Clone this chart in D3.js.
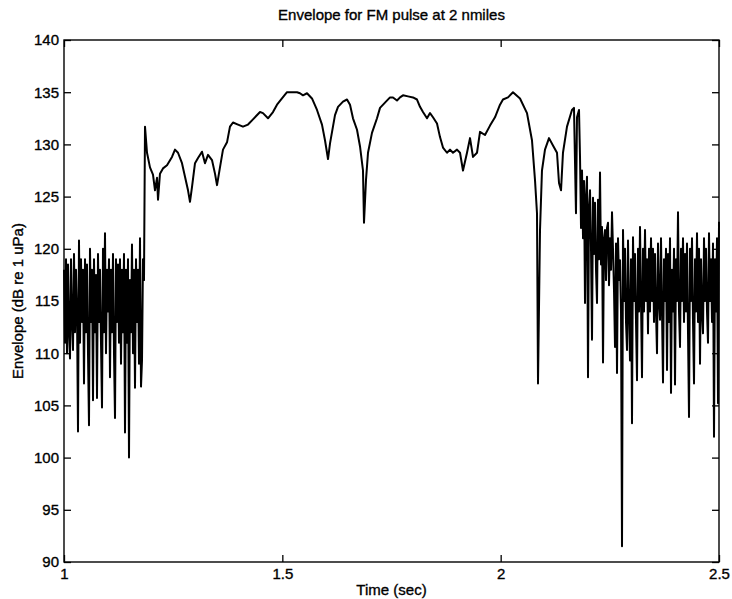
<!DOCTYPE html>
<meta charset="utf-8" />
<style>
  body { margin: 0; background: #fff; }
  text { font-family: 'Liberation Sans', Arial, sans-serif; fill: #000; stroke: #000; stroke-width: 0.35px; }
  .axis path, .axis line { stroke: #000; stroke-width: 1.3px; }
  .axis text { font-size: 15px; }
  .line { fill: none; stroke: #000; stroke-width: 2px; stroke-linejoin: round; }
</style>
<svg width="732" height="599"></svg>
<script src="https://d3js.org/d3.v7.min.js"></script>
<script>
  // left noise (before the pulse arrives), one sample every noiseStep seconds
  var noiseStep = 0.00229;
  var leftStart = 1.0;
  var leftNoise = [
    118, 111, 119, 110, 118.5, 112, 109.5, 119, 113, 110.3,
    119.5, 112, 118, 114, 102.5, 120.8, 111, 119, 113, 118,
    107.1, 119, 112, 118.5, 110, 103.1, 120, 113, 118, 105.5,
    119, 112, 117.5, 105.7, 119.5, 113, 118, 111, 104.8, 120,
    112, 121.5, 110, 118, 114, 119, 107.7, 118, 112, 119.5,
    110, 103.8, 119, 113, 118.5, 111, 119, 109, 118, 112,
    119.5, 102.4, 118, 111, 119, 100, 117, 112, 120.4, 110,
    118, 106.7, 119, 113, 118, 109, 121, 106.8, 109.3, 119,
    117
  ];

  // the pulse itself
  var pulseTime = [
    1.1855, 1.1901, 1.1969, 1.2038, 1.2084, 1.2130, 1.2153, 1.2198, 1.2267, 1.2359,
    1.2473, 1.2542, 1.2611, 1.2702, 1.2771, 1.2840, 1.2885, 1.2931, 1.3000, 1.3069,
    1.3160, 1.3229, 1.3298, 1.3389, 1.3458, 1.3504, 1.3572, 1.3641, 1.3733, 1.3801,
    1.3870, 1.3985, 1.4099, 1.4214, 1.4328, 1.4489, 1.4557, 1.4672, 1.4786, 1.4878,
    1.4992, 1.5107, 1.5221, 1.5336, 1.5404, 1.5473, 1.5565, 1.5679, 1.5794, 1.5908,
    1.5977, 1.6046, 1.6092, 1.6206, 1.6275, 1.6389, 1.6481, 1.6550, 1.6618, 1.6710,
    1.6779, 1.6847, 1.6870, 1.6916, 1.6962, 1.7053, 1.7168, 1.7237, 1.7351, 1.7466,
    1.7534, 1.7626, 1.7695, 1.7763, 1.7878, 1.7992, 1.8084, 1.8153, 1.8221, 1.8313,
    1.8382, 1.8450, 1.8542, 1.8611, 1.8679, 1.8771, 1.8840, 1.8908, 1.9000, 1.9069,
    1.9137, 1.9229, 1.9298, 1.9366, 1.9458, 1.9527, 1.9641, 1.9756, 1.9870, 1.9985,
    2.0053, 2.0168, 2.0282, 2.0443, 2.0603, 2.0717, 2.0786, 2.0832, 2.0855, 2.0901,
    2.0946, 2.1015, 2.1107, 2.1198, 2.1290, 2.1336, 2.1382, 2.1427, 2.1519, 2.1633,
    2.1679, 2.1725, 2.1748, 2.1794
  ];
  var pulseDb = [
    131.7, 129.2, 127.8, 127.1, 125.6, 126.8, 124.7, 127.2, 127.7, 128.0,
    128.8, 129.5, 129.2, 128.2, 126.9, 125.6, 124.5, 125.9, 128.2, 128.7,
    129.3, 128.2, 129.0, 128.5, 127.2, 126.1, 127.8, 129.5, 130.2, 131.7,
    132.1, 131.9, 131.7, 131.9, 132.4, 133.1, 133.0, 132.5, 133.1, 133.8,
    134.4, 135.0, 135.0, 135.0, 134.9, 134.7, 134.9, 134.4, 133.3, 131.9,
    130.4, 128.6, 130.1, 132.8, 133.6, 134.1, 134.3, 133.8, 132.5, 131.4,
    129.8, 127.5, 122.5, 126.6, 129.2, 131.1, 132.5, 133.5, 134.0, 134.5,
    134.5, 134.2, 134.5, 134.7, 134.6, 134.5, 134.3, 133.6, 133.1, 132.5,
    133.0, 132.6, 132.0, 130.7, 129.7, 129.2, 129.5, 129.2, 129.5, 129.2,
    127.5, 129.2, 130.6, 128.8, 129.2, 131.2, 130.9, 131.8, 132.6, 133.8,
    134.3, 134.5, 135.0, 134.4, 133.0, 130.4, 126.6, 123.4, 107.1, 121.8,
    127.5, 129.5, 130.6, 129.9, 129.2, 126.3, 125.6, 129.2, 131.7, 133.3,
    133.5, 123.4, 132.6, 133.3
  ];

  // right noise (after the pulse), same sample step
  var rightStart = 2.1817;
  var rightNoise = [
    128.8, 122, 127.5, 121, 126.5, 114.8, 125, 126.9, 107.7, 124,
    125.6, 120, 111.3, 124.9, 119.5, 124.4, 118, 114.8, 124.7, 119,
    127.3, 118.5, 122.1, 109.1, 121, 121.8, 117, 122, 122.5, 116.5,
    121, 118, 123.5, 119.9, 116, 110.6, 120.5, 108.1, 121, 117,
    118.9, 114, 91.5, 121.8, 115, 120, 113, 110.3, 120.8, 114,
    109.3, 119, 103.3, 121.1, 115, 119.5, 113, 107.4, 120, 114,
    122.1, 115, 107.7, 120, 114, 121.8, 115, 119, 111.9, 120,
    114, 121, 115, 120, 113, 119.5, 114, 110, 120.5, 115,
    113.2, 121, 114, 107.2, 119, 115, 120, 108.4, 119.5, 113,
    121, 106.2, 118, 114, 120, 107, 119, 115, 123.5, 114,
    110.6, 120, 115, 121, 113, 119.5, 114, 120.5, 112, 103.9,
    120, 115, 121, 113, 107.1, 119, 114, 121.5, 113, 120,
    109, 119, 114, 111.9, 121, 115, 120, 114, 111, 121.5,
    115, 119, 113, 120.5, 102, 119, 114, 121, 105.2, 122.6
  ];

  var xTicks = [1, 1.5, 2, 2.5];
  var yTicks = [90, 95, 100, 105, 110, 115, 120, 125, 130, 135, 140];

  var series = [];
  leftNoise.forEach(function (v, i) {
    series.push({ t: leftStart + i * noiseStep, v: v });
  });
  pulseTime.forEach(function (t, i) {
    series.push({ t: t, v: pulseDb[i] });
  });
  rightNoise.forEach(function (v, i) {
    series.push({ t: rightStart + i * noiseStep, v: v });
  });

  var svg = d3.select('svg'),
    margin = { top: 40, right: 13, bottom: 37, left: 64 },
    width = svg.attr('width') - margin.left - margin.right,
    height = svg.attr('height') - margin.top - margin.bottom,
    g = svg.append('g')
      .attr('transform', 'translate(' + margin.left + ',' + margin.top + ')');

  var x = d3.scaleLinear().domain([1, 2.5]).range([0, width]),
    y = d3.scaleLinear().domain([90, 140]).range([height, 0]);

  var tick = 7;

  g.append('g')
    .attr('class', 'axis')
    .attr('transform', 'translate(0,' + height + ')')
    .call(d3.axisBottom(x).tickValues(xTicks).tickFormat(d3.format('')).tickSizeInner(-tick).tickSizeOuter(0).tickPadding(6));

  g.append('g')
    .attr('class', 'axis')
    .call(d3.axisTop(x).tickValues(xTicks).tickFormat('').tickSizeInner(-tick).tickSizeOuter(0));

  g.append('g')
    .attr('class', 'axis')
    .call(d3.axisLeft(y).tickValues(yTicks).tickSizeInner(-tick).tickSizeOuter(0).tickPadding(5));

  g.append('g')
    .attr('class', 'axis')
    .attr('transform', 'translate(' + width + ',0)')
    .call(d3.axisRight(y).tickValues(yTicks).tickFormat('').tickSizeInner(-tick).tickSizeOuter(0));

  g.selectAll('.axis .domain').remove();

  var line = d3.line()
    .x(function (d) { return x(d.t); })
    .y(function (d) { return y(d.v); });

  g.append('path')
    .datum(series)
    .attr('class', 'line')
    .attr('d', line);

  g.append('rect')
    .attr('width', width)
    .attr('height', height)
    .attr('fill', 'none')
    .attr('stroke', '#000')
    .attr('stroke-width', 1.4);

  svg.append('text')
    .attr('x', margin.left + width / 2)
    .attr('y', 20)
    .attr('text-anchor', 'middle')
    .style('font-size', '15px')
    .text('Envelope for FM pulse at 2 nmiles');

  svg.append('text')
    .attr('x', margin.left + width / 2)
    .attr('y', 595)
    .attr('text-anchor', 'middle')
    .style('font-size', '15px')
    .text('Time (sec)');

  svg.append('text')
    .attr('transform', 'translate(23,' + (margin.top + height / 2) + ') rotate(-90)')
    .attr('text-anchor', 'middle')
    .style('font-size', '15px')
    .text('Envelope (dB re 1 uPa)');
</script>
